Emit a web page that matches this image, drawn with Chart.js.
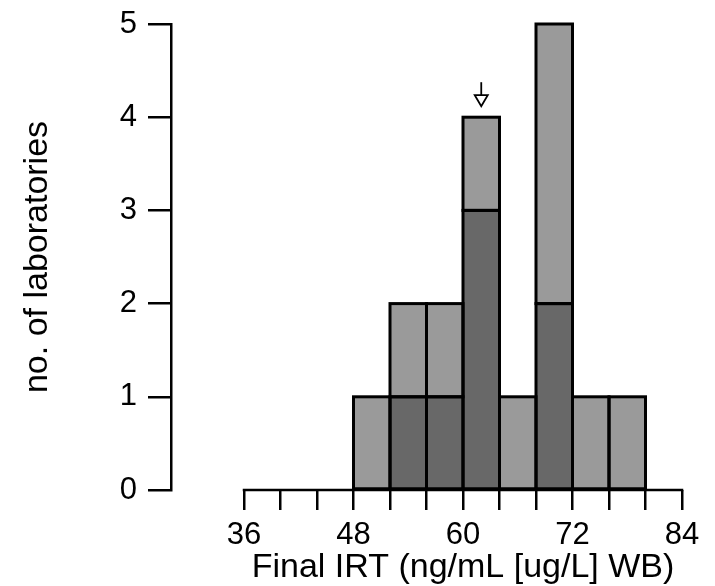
<!DOCTYPE html>
<html>
<head>
<meta charset="utf-8">
<script src="https://cdn.jsdelivr.net/npm/chart.js@4.4.1/dist/chart.umd.min.js"></script>
<style>
  html, body { margin: 0; padding: 0; background: #ffffff; }
  #wrap { width: 715px; height: 586px; }
</style>
</head>
<body>
<div id="wrap"><canvas id="c" width="715" height="586"></canvas></div>
<script>
// ---- data ----
const binCenters   = [50, 54, 58, 62, 66, 70, 74, 78];   // bins of width 4 (48..80)
const darkCounts   = [0, 1, 1, 3, 0, 2, 0, 0];
const lightCounts  = [1, 1, 1, 1, 1, 3, 1, 1];          // stacked on top of dark
const xTickValues  = [36, 40, 44, 48, 52, 56, 60, 64, 68, 72, 76, 80, 84];
const xLabelValues = [36, 48, 60, 72, 84];
const yTickValues  = [0, 1, 2, 3, 4, 5];
const arrowMark    = [62, 4];                            // x position, bar height under arrow
const xTitle = 'Final IRT (ng/mL [ug/L] WB)';
const yTitle = 'no. of laboratories';

const FONT = '"Liberation Sans", Arial, Helvetica, sans-serif';
const LIGHT = '#9a9a9a';
const DARK = '#686868';

function toPoints(vals) {
  return binCenters.map((x, i) => ({ x: x, y: vals[i] > 0 ? vals[i] : null }));
}

const outlinePlugin = {
  id: 'outlines',
  beforeDatasetsDraw(chart) {
    const ctx = chart.ctx, xs = chart.scales.x;
    const y0 = chart.scales.y.getPixelForValue(0);
    ctx.save();
    ctx.strokeStyle = '#000';
    ctx.lineWidth = 2.5;
    ctx.beginPath();
    ctx.moveTo(xs.getPixelForValue(xTickValues[0]) - 1.25, y0);
    ctx.lineTo(xs.getPixelForValue(xTickValues[xTickValues.length - 1]) + 1.25, y0);
    ctx.stroke();
    ctx.restore();
  },
  afterDatasetsDraw(chart) {
    const ctx = chart.ctx;
    ctx.save();
    ctx.strokeStyle = '#000';
    ctx.lineWidth = 3;
    chart.data.datasets.forEach((ds, di) => {
      const meta = chart.getDatasetMeta(di);
      meta.data.forEach((el, i) => {
        if (ds.data[i].y === null) return;
        const p = el.getProps(['x', 'y', 'base', 'width'], true);
        ctx.strokeRect(p.x - p.width / 2, p.y, p.width, p.base - p.y);
      });
    });
    // arrow
    const xs = chart.scales.x, ys = chart.scales.y;
    const ax = xs.getPixelForValue(arrowMark[0]);
    const tip = ys.getPixelForValue(arrowMark[1]) - 11;
    ctx.lineWidth = 1.8;
    ctx.beginPath();
    ctx.moveTo(ax, tip - 11);
    ctx.lineTo(ax, tip - 24);
    ctx.stroke();
    ctx.beginPath();
    ctx.moveTo(ax - 6.5, tip - 11);
    ctx.lineTo(ax + 6.5, tip - 11);
    ctx.lineTo(ax, tip);
    ctx.closePath();
    ctx.fillStyle = '#fff';
    ctx.fill();
    ctx.stroke();
    // x title
    ctx.fillStyle = '#000';
    ctx.font = '34px ' + FONT;
    ctx.textAlign = 'center';
    ctx.textBaseline = 'alphabetic';
    const cx = (xs.getPixelForValue(xTickValues[0]) + xs.getPixelForValue(xTickValues[xTickValues.length - 1])) / 2;
    ctx.fillText(xTitle, cx, xs.bottom - 9);
    ctx.restore();
  }
};

new Chart(document.getElementById('c'), {
  type: 'bar',
  data: {
    datasets: [
      { label: 'dark', data: toPoints(darkCounts), backgroundColor: DARK, borderWidth: 0 },
      { label: 'light', data: toPoints(lightCounts), backgroundColor: LIGHT, borderWidth: 0 }
    ]
  },
  options: {
    responsive: false,
    animation: false,
    devicePixelRatio: 1,
    barPercentage: 1,
    categoryPercentage: 1,
    layout: { padding: { top: 24, right: 33, left: 0, bottom: 0 } },
    plugins: { legend: { display: false }, tooltip: { enabled: false } },
    scales: {
      x: {
        type: 'linear',
        min: 28,
        max: 84,
        offset: false,
        stacked: true,
        afterFit(scale) { scale.height = 96; },
        afterBuildTicks(scale) { scale.ticks = xTickValues.map(v => ({ value: v })); },
        grid: { display: true, drawOnChartArea: false, drawTicks: true, tickLength: 20, lineWidth: 2.5, color: '#000', offset: false },
        border: { display: false },
        ticks: {
          autoSkip: false,
          maxRotation: 0,
          padding: 7,
          color: '#000',
          font: { family: FONT, size: 31 },
          callback: (v) => xLabelValues.includes(v) ? String(v) : ''
        }
      },
      y: {
        min: 0,
        max: 5,
        stacked: true,
        afterFit(scale) { scale.width = 171; scale.paddingTop = 0; scale.paddingBottom = 0; },
        afterBuildTicks(scale) { scale.ticks = yTickValues.map(v => ({ value: v })); },
        grid: { display: true, drawOnChartArea: false, drawTicks: true, tickLength: 23, lineWidth: 2.5, color: '#000' },
        border: { display: true, color: '#000', width: 2.5 },
        ticks: { padding: 11, color: '#000', font: { family: FONT, size: 31, lineHeight: 0.8 } },
        title: { display: true, text: yTitle, color: '#000', font: { family: FONT, size: 34 }, padding: { top: 17, bottom: 0 } }
      }
    }
  },
  plugins: [outlinePlugin]
});
</script>
</body>
</html>
